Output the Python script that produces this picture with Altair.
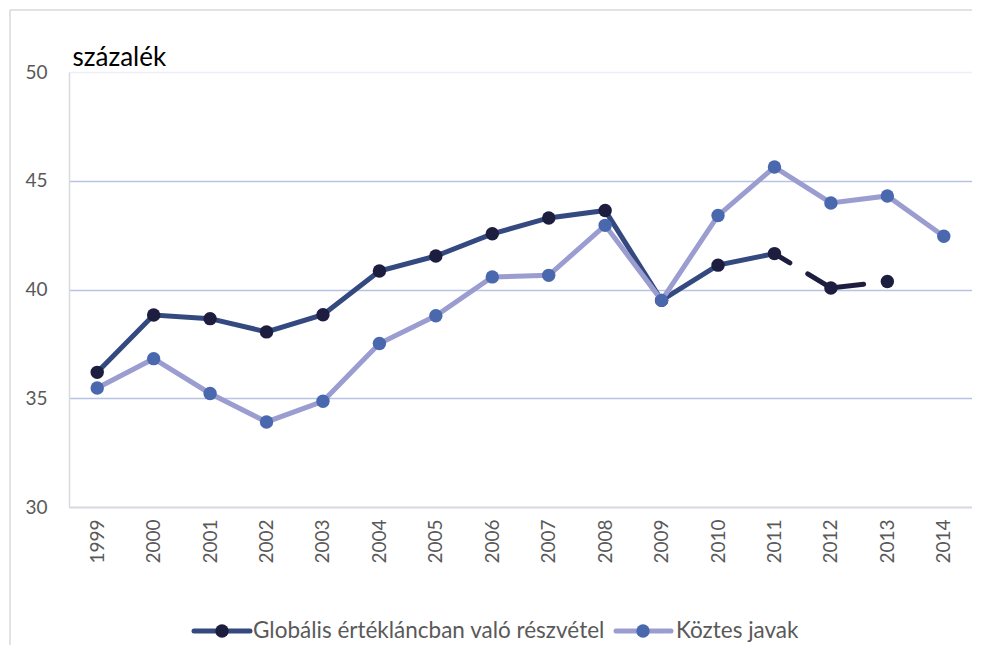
import altair as alt
import pandas as pd

years = list(range(1999, 2015))
gvc = [36.19, 38.83, 38.66, 38.05, 38.84, 40.85, 41.54, 42.56, 43.29, 43.63,
       39.50, 41.12, 41.65, 40.07, 40.37]
koztes = [35.47, 36.82, 35.22, 33.91, 34.86, 37.52, 38.79, 40.58, 40.65, 42.95,
          39.50, 43.40, 45.63, 43.98, 44.30, 42.45]
series_names = ["Globális értékláncban való részvétel", "Köztes javak"]
y_ticks = [30, 35, 40, 45, 50]
y_title = "százalék"

DARK_LINE = "#34497f"
DARK_MARK = "#1d1d40"
LIGHT_LINE = "#9b9dd1"
LIGHT_MARK = "#4a68ae"
FONT = "Lato"

df_gvc = pd.DataFrame({"year": years[:len(gvc)], "value": gvc})
df_k = pd.DataFrame({"year": years, "value": koztes})

x = alt.X(
    "year:O",
    scale=alt.Scale(type="point", padding=0.5, domain=years),
    axis=alt.Axis(
        title=None, labelAngle=-90, labelAlign="right", labelBaseline="middle",
        ticks=False, grid=False, domainColor="#d9d9d9", domainWidth=1.5,
        labelPadding=12, labelFont=FONT, labelFontSize=19, labelColor="#595959",
    ),
)
y = alt.Y(
    "value:Q",
    scale=alt.Scale(domain=[30, 50], nice=False, zero=False),
    axis=alt.Axis(
        values=y_ticks, title=y_title, titleAngle=0, titleAlign="left",
        titleBaseline="alphabetic", titleX=3, titleY=-7, titleFont=FONT,
        titleFontSize=26, titleFontWeight="normal", titleColor="#000000",
        grid=True, gridWidth=1.5,
        gridColor={"condition": {"test": "datum.value === 50", "value": "#eeeef8"},
                   "value": "#b8c2e2"},
        ticks=False, domain=True, domainColor="#d9d9d9", domainWidth=1.5,
        labelPadding=22, labelFont=FONT, labelFontSize=19, labelColor="#595959",
    ),
)

frame_df = pd.DataFrame({"a": [0]})
frame_top = alt.Chart(frame_df).mark_rule(color="#d9d9d9", strokeWidth=1.5).encode(
    x=alt.value(-59), x2=alt.value(930), y=alt.value(-62))
frame_left = alt.Chart(frame_df).mark_rule(color="#d9d9d9", strokeWidth=1.5).encode(
    x=alt.value(-59), y=alt.value(-62), y2=alt.value(600))

dark_solid = alt.Chart(df_gvc).transform_filter("datum.year <= 2011").mark_line(
    color=DARK_LINE, strokeWidth=5).encode(x=x, y=y)
dark_dash = alt.Chart(df_gvc).transform_filter("datum.year >= 2011").mark_line(
    color=DARK_MARK, strokeWidth=5, strokeDash=[18, 21, 60, 24], strokeCap="round"
).encode(x=x, y=y)
dark_pts = alt.Chart(df_gvc).mark_circle(color=DARK_MARK, size=180, opacity=1).encode(x=x, y=y)
light_line = alt.Chart(df_k).mark_line(color=LIGHT_LINE, strokeWidth=5).encode(x=x, y=y)
light_pts = alt.Chart(df_k).mark_circle(color=LIGHT_MARK, size=180, opacity=1).encode(x=x, y=y)

legend_df = pd.DataFrame({"name": series_names})
leg_pos = [(125, 181, 153, 184), (547, 602, 574, 607)]
leg_cols = [(DARK_LINE, DARK_MARK), (LIGHT_LINE, LIGHT_MARK)]
legend_layers = []
for i, name in enumerate(series_names):
    x1, x2, xc, xt = leg_pos[i]
    lc, mc = leg_cols[i]
    base = alt.Chart(legend_df).transform_filter(alt.datum.name == name)
    legend_layers.append(base.mark_rule(color=lc, strokeWidth=5, strokeCap="round").encode(
        x=alt.value(x1), x2=alt.value(x2), y=alt.value(559)))
    legend_layers.append(base.mark_circle(color=mc, size=180, opacity=1).encode(
        x=alt.value(xc), y=alt.value(559)))
    legend_layers.append(base.mark_text(
        align="left", baseline="middle", font=FONT, fontSize=22.5, color="#595959"
    ).encode(x=alt.value(xt), y=alt.value(559), text="name:N"))

chart = alt.layer(
    frame_top, frame_left, dark_solid, dark_dash, dark_pts, light_line, light_pts,
    *legend_layers
).properties(
    width=903, height=435,
    autosize=alt.AutoSizeParams(type="none"),
    padding={"left": 61, "top": 64, "right": 0, "bottom": 138},
).configure_view(stroke=None)

chart.save("out.html", embed_options={"renderer": "svg", "actions": False})
